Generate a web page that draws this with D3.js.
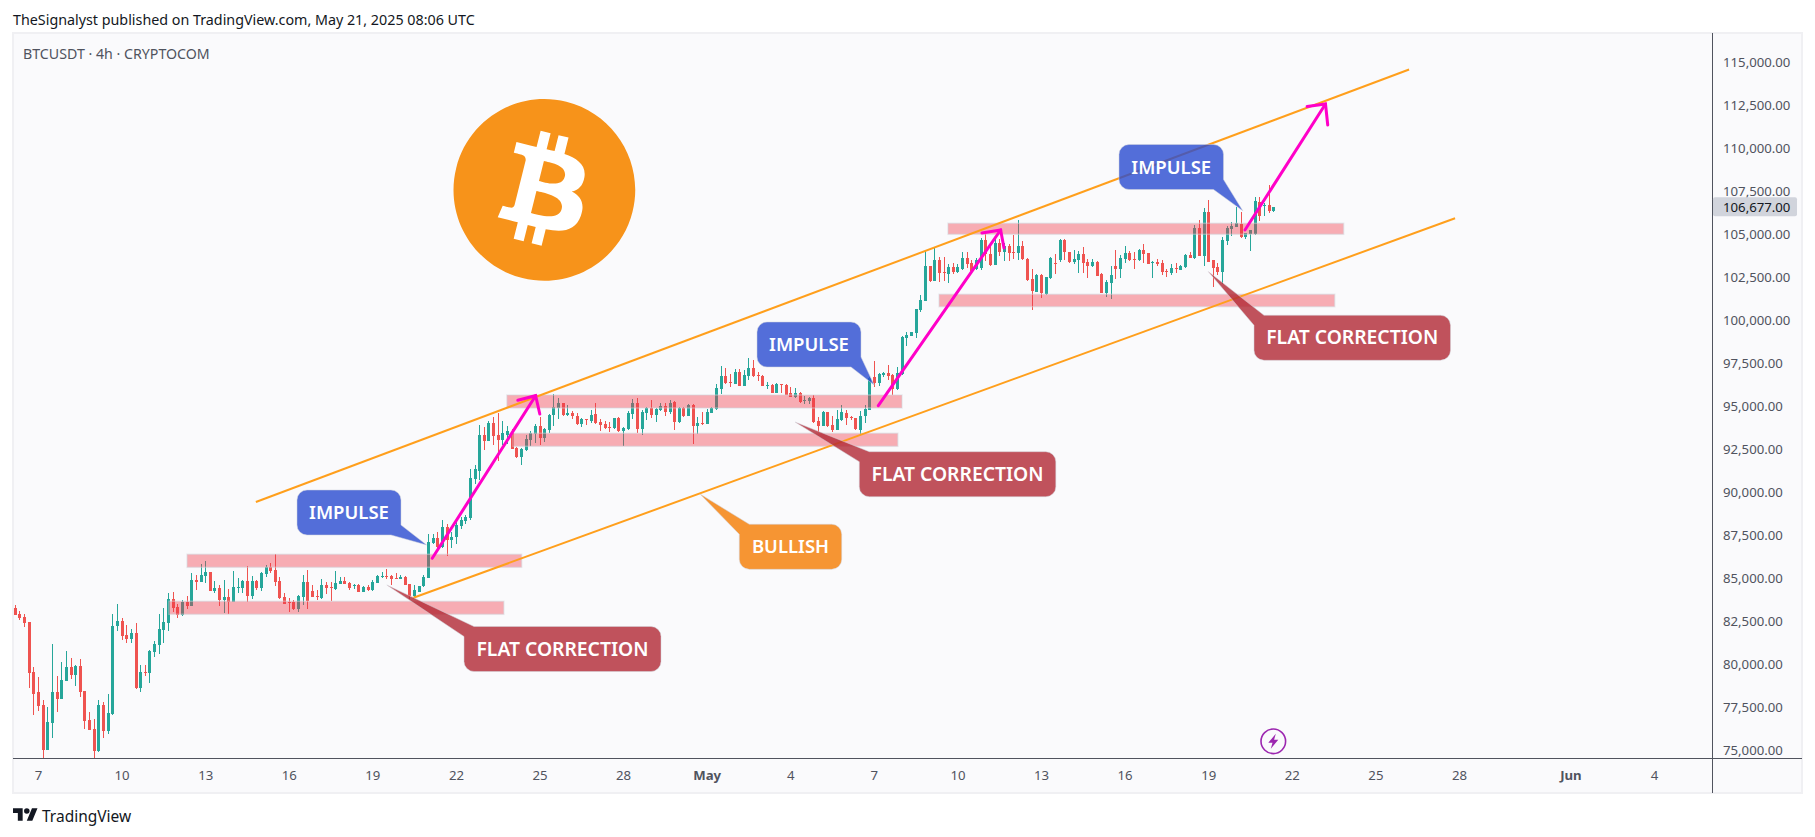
<!DOCTYPE html>
<html>
<head>
<meta charset="utf-8">
<script src="https://cdn.jsdelivr.net/npm/d3@7"></script>
<style>
  html, body { margin: 0; padding: 0; background: #fff; overflow: hidden; }
  svg { display: block; }
  text { font-family: "Noto Sans", sans-serif; }
</style>
</head>
<body>
<div id="chart"></div>
<script>
// [open, high, low, close], 4h bars, first one is Apr 6 04:00 UTC
let aprilCandles = [
  [83320,83500,82900,82900],[82970,83150,82620,82740],[82800,82970,82240,82450],[82510,82510,78670,79540],[79600,79890,77100,78320],
  [78430,79310,77330,77620],[77680,77970,74570,75060],[75060,77560,75060,76690],[76630,81230,75760,78430],[78430,79370,77270,78030],
  [78030,80180,78030,79130],[79070,80820,79070,79890],[79890,80410,79190,79420],[79420,80000,78780,79950],[79950,80350,78140,78430],
  [78490,78490,76280,76750],[76800,77270,76220,76220],[76280,76860,74570,75000],[75000,77970,74940,77680],[77680,77850,75760,76160],
  [76160,78320,75990,77210],[77150,82970,77100,82280],[82280,83560,81980,82570],[82570,82740,81460,81690],[81750,82330,81290,81520],
  [81520,82100,81290,81870],[81870,82450,78610,78670],[78670,80010,78430,79600],[79600,80010,79370,79540],[79540,80880,78960,80820],
  [80760,81400,80470,81230],[81170,82970,80650,82100],[82040,83320,81290,82510],[82450,84200,81980,83850],[83850,84250,83090,83320],
  [83380,83560,82740,82920],[82920,83790,82860,83670],[83670,84020,83260,83440],[83440,85340,83440,84950],[84950,85240,84370,84860],
  [84840,85860,84840,85240],[85190,86040,84760,85420],[85420,85420,84310,84310],[84310,84890,84220,84470],[84510,84660,83440,83790],
  [83790,84950,83010,83940],[83940,84410,82970,83690],[83690,85480,83670,84530],[84510,85050,84180,84550],[84490,84950,84220,84890],
  [84890,85770,83690,84020],[84020,85190,83830,84890],[84890,84950,84370,84490],[84490,85420,84290,85360],[85300,85810,85150,85710],
  [85710,85920,85340,85480],[85530,86470,84600,84840],[84890,85130,83870,83900],[83960,84220,83560,83560],[83670,83890,83090,83610],
  [83670,83790,83210,83250],[83250,84080,83090,84020],[83960,85240,83500,84840],[84840,85530,83260,83730],[84310,84660,83960,83960],
  [84020,84370,83790,83960],[83890,85010,83850,84660],[84660,84840,84140,84490],[84550,84840,83730,84520],[84430,85480,84370,84780],
  [84720,85130,84720,84890],[84890,85130,84720,84720],[84780,84840,84370,84490],[84600,84720,84430,84660],[84660,84720,84250,84250],
  [84250,84600,84250,84550],[84550,84660,84310,84370],[84370,84950,84330,84840],[84780,85240,84780,85190],[85130,85420,85070,85190],
  [85190,85590,84990,85130],[85190,85240,84660,85010],[85070,85360,85010,85030],[85030,85240,85010,85130],[85130,85190,84660,84660],
  [84720,84720,83850,84020],[84020,84660,83960,84370],[84250,84600,84250,84600],[84600,85240,84550,85110],[85070,87630,85070,87160],
  [87110,87630,87050,87400],[87400,87750,86800,86870],[86870,88440,86810,88040],[88040,88210,86350,87280],[87280,87750,86810,87460],
  [87460,88440,87050,88150],[88100,88620,87920,88440],[88390,88740,88210,88620],[88560,91410,88440,90890],[90830,91650,90540,91410],
  [91300,93970,90770,93390],[93390,93860,92520,93040],[93040,94210,93040,94090],[94090,94440,92810,93310],[93390,94670,91880,93100],
  [93100,94210,92810,93510],[93390,93920,92870,93620],[93490,93740,92580,92580],[92630,92690,92050,92110],[92110,92630,91650,92580],
  [92520,93390,92460,93160],[93100,93620,92750,93510],[93450,94030,92930,93920],[93920,94440,92810,93220],[93220,93800,92980,93740],
  [93680,94610,93510,94560],[94560,95780,93920,95020],[94960,95540,94320,95250],[95250,95250,94500,94560],[94560,95140,94500,94670],
  [94670,94790,94320,94500],[94500,94670,93970,94030],[94030,94380,93860,94320],[94320,94320,93970,94260],[94210,94850,94090,94560],
  [94610,95250,94030,94090],[94150,94320,93620,93970],[94030,94210,93740,93800],[93860,94150,93570,93820],[93800,94380,93740,94380],
  [94380,94440,93570,93620],[93620,93840,92750,93800],[93740,94790,93680,94670],[94610,95490,94320,95250],[95250,95540,93510,93740],
  [93740,94850,93390,94730],[94670,95020,94260,94960],[94960,95430,94380,94560],[94560,94960,94150,94900],[94850,95250,94790,95080],
  [95080,95250,94500,94730],[94730,95430,94610,95250],[95310,95370,93680,94150],[94150,95020,94090,94960],[94960,95020,94440,94500],
  [94500,95200,94500,95140],[95140,95200,92870,93920],[93920,94440,93450,94090],[94090,94730,93970,94030]
]
let mayCandles = [
  [94030,94900,94030,94730],[94670,95020,94670,94960],[94900,96360,94850,96130],[96070,97410,95780,96830],[96830,97290,96360,96420],
  [96480,96940,96190,96420],[96360,97230,96360,97060],[97060,97230,96240,96240],[96240,97170,96240,96880],[96830,97870,96590,97290],
  [97290,97760,96770,96830],[96880,97060,96530,96840],[96830,96880,96240,96240],[96240,96480,96070,96300],[96300,96360,95840,95840],
  [95840,96420,95840,96360],[96340,96360,95840,96300],[96300,96360,95720,95720],[95840,96190,95600,95600],[95600,96130,95540,95840],
  [95840,95890,95250,95310],[95390,95660,95200,95430],[95370,95600,95200,95540],[95540,95720,94090,94150],[94210,94440,93570,93920],
  [93920,94790,93920,94730],[94730,94730,93860,93920],[93970,94500,93570,93680],[93680,94850,93680,94320],[94260,95140,94210,94730],
  [94670,94850,93970,94380],[94440,94500,94260,94380],[94380,94380,93680,93740],[93680,94790,93390,94500],[94500,95140,94090,94900],
  [94850,96770,94850,96710],[96770,97700,96190,96420],[96420,97000,96240,96940],[96880,97060,96770,97000],[97000,97470,96590,96830],
  [96880,96940,95720,96070],[96070,97350,96010,97000],[96940,99150,96880,99100],[99040,99390,98570,99210],[99150,99390,99150,99390],
  [99330,100720,99040,100720],[100670,101540,100550,101250],[101190,104100,101190,103230],[103230,103230,102300,102350],[102350,104270,102350,103580],
  [103580,103750,102300,102820],[102880,103750,102350,102800],[102760,103340,102240,103170],[103170,103400,102760,102880],[102880,103340,102820,103170],
  [103050,104040,102990,103690],[103690,104040,103110,103340],[103400,103580,102880,102940],[103050,103690,102990,103580],[103110,104860,102990,104740],
  [104740,105090,103520,103930],[103930,104570,103230,103290],[103290,104800,103290,104570],[104570,104800,103810,104040],[104040,104570,103520,104390],
  [104390,104510,103520,103980],[104020,105030,103630,103980],[103980,105900,103580,104390],[104390,104680,103580,103630],[103630,103690,102350,102410],
  [102470,103050,100670,101770],[101710,102760,101710,102700],[102700,102760,101360,101660],[101600,102590,101540,102590],[102530,103750,102470,103690],
  [103400,103930,102760,103340],[103580,104800,103460,104740],[104740,104800,103580,104040],[104040,104040,103400,103460],[103460,104160,103340,103630],
  [103580,104100,102820,103930],[103930,104330,102820,103400],[103460,103630,102530,103230],[103230,103630,103170,103460],[103460,103520,102650,102650],
  [102760,102820,101650,101650],[101650,102410,101420,102300],[102240,103230,101310,102700],[103230,104160,102470,103050],[103050,103870,102530,103690],
  [103630,104390,103400,103980],[103980,104100,103520,103580],[103650,104040,103050,103600],[103580,104220,103520,104160],[104160,104510,103400,103930],
  [103980,103980,103340,103340],[103400,103520,102530,103460],[103460,103630,103230,103340],[103400,103580,102700,102880],[102940,103050,102590,102880],
  [102820,103340,102700,103110],[103110,103400,102820,103050],[102990,103290,102990,103230],[103170,103930,103110,103870],[103870,104040,103690,103690],
  [103690,105610,103630,105440],[105440,105900,103810,103810],[103810,106600,103230,106370],[106370,107070,103460,103460],[103580,103580,102000,103110],
  [103170,103400,102700,102880],[102880,104920,102180,104740],[104680,105560,104450,105440],[105380,105790,104970,105560],[105500,106660,105500,105730],
  [105670,106370,104860,104920],[104920,105150,104800,105150],[105090,105320,104100,105320],[105090,107240,105030,107010],[106950,107240,105850,106140],
  [106720,106890,106140,106780],[106780,107940,106310,106430],[106430,106660,106370,106677]
]

let priceTicks = [75000,77500,80000,82500,85000,87500,90000,92500,95000,97500,100000,102500,105000,107500,110000,112500,115000]
let lastPrice = 106677

// month, day
let timeTicks = [[3,7],[3,10],[3,13],[3,16],[3,19],[3,22],[3,25],[3,28],[4,1],[4,4],[4,7],[4,10],[4,13],[4,16],[4,19],[4,22],[4,25],[4,28],[5,1],[5,4]]
let monthNames = {4: "May", 5: "Jun"}

// drawings: [days after Apr 7, price]
let zones = [
  [5.35,17.36,85691,86448],
  [4.70,16.72,82956,83713],
  [16.83,31.01,94963,95719],
  [17.05,30.86,92733,93490],
  [32.66,46.86,105072,105712],
  [32.34,46.54,100859,101580]
]
let channelUpper = [[7.82,89492],[49.21,114663]]
let channelLower = [[13.45,83905],[50.86,106003]]
// start, tip, left arm, right arm
let arrows = [
  [[14.15,86215],[17.86,95678],[17.22,95411],[18.01,94613]],
  [[30.16,95097],[34.55,105322],[33.88,105148],[34.67,104275]],
  [[43.32,105322],[46.21,112655],[45.55,112510],[46.29,111433]]
]
let calloutLabels = ["IMPULSE","IMPULSE","IMPULSE","FLAT CORRECTION","FLAT CORRECTION","FLAT CORRECTION","BULLISH"]
let calloutTips = [[13.95,86989],[30.01,96301],[43.24,106445],[12.52,84661],[27.17,94148],[42.0,102906],[23.76,89957]]

// callout boxes are screen placed, like in the tradingview drawing
let calloutBoxes = [
  {x:297,y:490,w:104,h:45,corner:"br",fill:"rgb(41,75,207)"},
  {x:757,y:322,w:104,h:45,corner:"br",fill:"rgb(41,75,207)"},
  {x:1119,y:144.5,w:104.5,h:45,corner:"br",fill:"rgb(41,75,207)"},
  {x:464,y:626.5,w:197,h:45,corner:"tl",fill:"#b22833"},
  {x:859.3,y:451.7,w:196.5,h:45,corner:"tl",fill:"#b22833"},
  {x:1254,y:315.3,w:196.5,h:45,corner:"tl",fill:"#b22833"},
  {x:739.3,y:524.3,w:102.4,h:45,corner:"tl",fill:"rgb(245,124,0)"}
]

let width = 1815, height = 837
let frame = {left: 13, right: 1802, top: 33, bottom: 793}
let axisX = 1712, axisY = 758
let hour = 3600 * 1000, day = 24 * hour
let apr7 = Date.UTC(2025, 3, 7)
let firstBar = Date.UTC(2025, 3, 6, 4)

let candles = aprilCandles.concat(mayCandles).map(function(c, i) {
  return {t: new Date(firstBar + i * 4 * hour), open: c[0], high: c[1], low: c[2], close: c[3]}
})

let x = d3.scaleUtc().domain([new Date(apr7), new Date(Date.UTC(2025, 5, 4))]).range([38, 1654])
let y = d3.scaleLinear().domain([75000, 115000]).range([751, 63.7])

function px(d) { return x(new Date(apr7 + d * day)) }
function pt(p) { return [px(p[0]), y(p[1])] }

let svg = d3.select("#chart").append("svg").attr("width", width).attr("height", height)

// frame
svg.append("rect")
  .attr("x", frame.left).attr("y", frame.top)
  .attr("width", frame.right - frame.left).attr("height", frame.bottom - frame.top)
  .attr("fill", "#fafafc").attr("stroke", "#f0f0f3").attr("stroke-width", 2)

svg.append("text").attr("x", 13).attr("y", 25)
  .attr("font-size", 14.3).attr("fill", "#131722")
  .text("TheSignalyst published on TradingView.com, May 21, 2025 08:06 UTC")
svg.append("text").attr("x", 23).attr("y", 59)
  .attr("font-size", 14.2).attr("fill", "#50535e")
  .text("BTCUSDT · 4h · CRYPTOCOM")

svg.append("defs").append("clipPath").attr("id", "plot").append("rect")
  .attr("x", frame.left).attr("y", frame.top)
  .attr("width", axisX - frame.left).attr("height", axisY - frame.top)

let plot = svg.append("g").attr("clip-path", "url(#plot)")

// Candles
let up = "#26a69a", down = "#ef5350"
let bars = plot.append("g").selectAll("g").data(candles).join("g")
  .attr("fill", d => d.close >= d.open ? up : down)
  .attr("shape-rendering", "crispEdges")
bars.append("rect")
  .attr("x", d => Math.round(x(d.t)))
  .attr("width", 1)
  .attr("y", d => y(d.high))
  .attr("height", d => y(d.low) - y(d.high))
bars.append("rect")
  .attr("x", d => Math.round(x(d.t)) - 1)
  .attr("width", 3)
  .attr("y", d => y(Math.max(d.open, d.close)))
  .attr("height", d => Math.max(1, Math.abs(y(d.open) - y(d.close))))

// Zones
plot.append("g").selectAll("rect").data(zones).join("rect")
  .attr("x", d => px(d[0]))
  .attr("width", d => px(d[1]) - px(d[0]))
  .attr("y", d => y(d[3]))
  .attr("height", d => y(d[2]) - y(d[3]))
  .attr("fill", "rgb(242,54,69)").attr("fill-opacity", 0.4)
  .attr("stroke", "#d1d4dc").attr("stroke-opacity", 0.45).attr("stroke-width", 1.5)

// Channel
let line = d3.line().x(d => pt(d)[0]).y(d => pt(d)[1])
plot.selectAll("path.channel").data([channelUpper, channelLower]).join("path")
  .attr("class", "channel")
  .attr("d", line)
  .attr("fill", "none").attr("stroke", "#ff9f1c").attr("stroke-width", 2)

// Impulse arrows
plot.selectAll("g.arrow").data(arrows).join("g").attr("class", "arrow")
  .each(function(a) {
    d3.select(this).selectAll("path").data([[a[0], a[1]], [a[2], a[1], a[3]]]).join("path")
      .attr("d", line)
      .attr("fill", "none").attr("stroke", "#ff00c8").attr("stroke-width", 3).attr("stroke-linecap", "round")
  })

// Callouts
function calloutPath(b, tip) {
  let r = 10, p = d3.path()
  if (b.corner == "tl") {
    p.moveTo(b.x + r, b.y)
    p.arcTo(b.x + b.w, b.y, b.x + b.w, b.y + b.h, r)
    p.arcTo(b.x + b.w, b.y + b.h, b.x, b.y + b.h, r)
    p.arcTo(b.x, b.y + b.h, b.x, b.y, r)
    p.lineTo(b.x, b.y + r)
  } else {
    p.moveTo(b.x + b.w - r, b.y + b.h)
    p.arcTo(b.x, b.y + b.h, b.x, b.y, r)
    p.arcTo(b.x, b.y, b.x + b.w, b.y, r)
    p.arcTo(b.x + b.w, b.y, b.x + b.w, b.y + b.h, r)
    p.lineTo(b.x + b.w, b.y + b.h - r)
  }
  p.lineTo(tip[0], tip[1])
  p.closePath()
  return p.toString()
}

calloutLabels.forEach(function(label, i) {
  let b = calloutBoxes[i]
  plot.append("path")
    .attr("d", calloutPath(b, pt(calloutTips[i])))
    .attr("fill", b.fill).attr("fill-opacity", 0.8)
    .attr("stroke", "#d1d4dc").attr("stroke-opacity", 0.5).attr("stroke-width", 1)
  plot.append("text")
    .attr("x", b.x + b.w / 2).attr("y", b.y + b.h / 2 + 6.5)
    .attr("text-anchor", "middle")
    .attr("font-size", label == "FLAT CORRECTION" ? 19.3 : 18.5).attr("font-weight", 600).attr("fill", "#fff")
    .text(label)
})

// Bitcoin logo
let logo = plot.append("g").attr("transform", "translate(453.5,99) scale(2.84)")
logo.append("path").attr("fill", "#f7931a")
  .attr("d", "M63.04 39.741c-4.274 17.143-21.638 27.575-38.783 23.301C7.12 58.768-3.313 41.404.962 24.262 5.234 7.117 22.597-3.317 39.737.957c17.144 4.274 27.576 21.64 23.302 38.784z")
logo.append("path").attr("fill", "#fff")
  .attr("d", "M46.11 27.441c.636-4.258-2.606-6.547-7.039-8.074l1.438-5.768-3.512-.875-1.4 5.616c-.922-.23-1.87-.447-2.812-.662l1.41-5.653-3.509-.875-1.439 5.766c-.764-.174-1.514-.346-2.242-.527l.004-.018-4.842-1.209-.934 3.75s2.605.597 2.55.634c1.422.355 1.68 1.296 1.636 2.042l-1.638 6.571c.098.025.225.061.365.117l-.37-.092-2.297 9.205c-.174.432-.615 1.08-1.609.834.035.051-2.552-.637-2.552-.637l-1.743 4.02 4.57 1.139c.85.213 1.683.436 2.502.646l-1.453 5.835 3.507.875 1.44-5.772c.957.26 1.887.5 2.797.726L27.504 50.8l3.511.875 1.453-5.823c5.987 1.133 10.49.676 12.383-4.738 1.527-4.36-.075-6.875-3.225-8.516 2.294-.531 4.022-2.04 4.483-5.157zM38.087 38.69c-1.086 4.36-8.426 2.004-10.807 1.412l1.928-7.729c2.38.594 10.011 1.77 8.88 6.317zm1.085-11.312c-.99 3.966-7.1 1.951-9.083 1.457l1.748-7.01c1.983.494 8.367 1.416 7.335 5.553z")

// Flash icon under the last bars
let flash = svg.append("g").attr("transform", "translate(1273.3,741.3)")
flash.append("circle").attr("r", 12.3).attr("fill", "none").attr("stroke", "#9c27b0").attr("stroke-width", 1.6)
flash.append("path").attr("d", "M2.5 -7.5 L-5 1.5 L-0.8 1.5 L-2.5 7.5 L5 -1.5 L0.8 -1.5 Z").attr("fill", "#9c27b0")

// Axes
let yAxis = d3.axisRight(y).tickValues(priceTicks).tickSize(0).tickPadding(0).tickFormat(d3.format(",.2f"))
let yG = svg.append("g").attr("transform", "translate(" + (axisX + 11) + ",-1)").call(yAxis)
yG.select(".domain").remove()
yG.selectAll("text").attr("font-size", 13.2).attr("fill", "#50535e").attr("font-family", '"Noto Sans", sans-serif')

let xAxis = d3.axisBottom(x)
  .tickValues(timeTicks.map(t => new Date(Date.UTC(2025, t[0], t[1]))))
  .tickSize(0).tickPadding(0)
  .tickFormat(d => d.getUTCDate() == 1 ? monthNames[d.getUTCMonth()] : d.getUTCDate())
let xG = svg.append("g").attr("transform", "translate(0," + (axisY + 12.5) + ")").call(xAxis)
xG.select(".domain").remove()
xG.selectAll("text")
  .attr("font-size", 13.2).attr("fill", "#50535e").attr("font-family", '"Noto Sans", sans-serif')
  .attr("font-weight", d => d.getUTCDate() == 1 ? 700 : 400)

svg.append("line").attr("x1", frame.left).attr("x2", frame.right).attr("y1", axisY).attr("y2", axisY)
  .attr("stroke", "#50535e").attr("stroke-width", 1).attr("shape-rendering", "crispEdges")
svg.append("line").attr("x1", axisX).attr("x2", axisX).attr("y1", frame.top).attr("y2", frame.bottom)
  .attr("stroke", "#50535e").attr("stroke-width", 1).attr("shape-rendering", "crispEdges")

// Last price tag
svg.append("rect")
  .attr("x", axisX + 1).attr("y", y(lastPrice) - 9.5)
  .attr("width", 84).attr("height", 19).attr("rx", 2)
  .attr("fill", "#d1d4dc")
svg.append("text").attr("x", axisX + 11).attr("y", y(lastPrice) + 4.8)
  .attr("font-size", 13.2).attr("fill", "#131722")
  .text(d3.format(",.2f")(lastPrice))

// TradingView mark
let tv = svg.append("g").attr("transform", "translate(13,805.5) scale(0.69)")
tv.append("path").attr("d", "M14 22H7V11H0V4h14v18zM28 22h-8l7.5-18h8L28 22z").attr("fill", "#131722")
tv.append("circle").attr("cx", 20).attr("cy", 8).attr("r", 4).attr("fill", "#131722")
svg.append("text").attr("x", 42).attr("y", 822)
  .attr("font-size", 15.5).attr("fill", "#131722")
  .text("TradingView")
</script>
</body>
</html>
